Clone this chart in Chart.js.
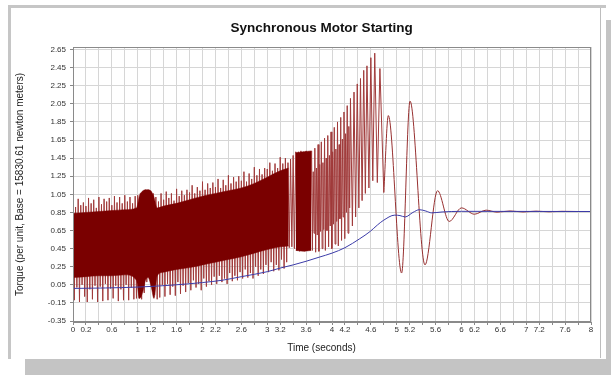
<!DOCTYPE html>
<html>
<head>
<meta charset="utf-8">
<title>Synchronous Motor Starting</title>
<script src="https://cdn.jsdelivr.net/npm/chart.js@4"></script>
<style>
  html, body { margin: 0; padding: 0; background: #fff; }
  #wrap { position: relative; width: 611px; height: 375px; overflow: hidden; }
  #shadow { position: absolute; left: 25px; top: 20px; width: 600px; height: 370px; background: #c4c4c4; }
  #panel { position: absolute; left: 8px; top: 5px; width: 598px; height: 354px; box-sizing: border-box;
           background: #fff; border-top: 3px solid #c6c6c6; border-left: 3px solid #c6c6c6; }
  #edge { position: absolute; left: 600px; top: 8px; width: 1px; height: 350px; background: #bdbdbd; }
  canvas { position: absolute; left: 0; top: 0; }
</style>
</head>
<body>
<div id="wrap">
  <div id="shadow"></div>
  <div id="panel"></div>
  <div id="edge"></div>
  <canvas id="motorChart" width="611" height="375"></canvas>
</div>
<script>
// axis ticks
const xTickLabels = ['0', '0.2', '0.6', '1', '1.2', '1.6', '2', '2.2', '2.6', '3', '3.2', '3.6',
                     '4', '4.2', '4.6', '5', '5.2', '5.6', '6', '6.2', '6.6', '7', '7.2', '7.6', '8'];
const xGridStep = 0.2;
const yTickValues = [-0.35, -0.15, 0.05, 0.25, 0.45, 0.65, 0.85, 1.05, 1.25, 1.45, 1.65, 1.85, 2.05, 2.25, 2.45, 2.65];

// torque, 0 .. 3.66 s, one sample every 0.02 s (peak / trough alternating)
const denseStep = 0.02;
const torqueDense = [
  0.98,-0.12, 0.91,0.02, 1.00,-0.14, 0.93,0.05, 0.96,-0.08,
  0.92,-0.14, 1.01,0.00, 0.95,-0.11, 0.99,0.04, 0.90,-0.14,
  1.02,0.03, 0.94,-0.13, 1.00,0.06, 0.97,-0.12, 1.01,0.01,
  0.93,-0.10, 1.03,0.04, 0.96,-0.13, 1.02,0.00, 0.95,-0.12,
  1.04,0.05, 0.97,-0.12, 1.02,0.02, 0.95,-0.11, 1.03,-0.10,
  1.04,-0.10, 1.06,-0.11, 1.08,-0.04, 1.10,0.08, 1.10,0.13,
  1.09,0.10, 1.06,-0.06, 1.02,-0.11, 0.97,-0.09, 1.06,0.05,
  0.99,-0.08, 1.08,0.06, 1.01,-0.06, 1.06,0.03, 0.98,-0.07,
  1.11,0.08, 1.03,-0.05, 1.09,0.04, 1.04,-0.03, 1.10,0.07,
  1.07,-0.01, 1.15,0.10, 1.06,0.02, 1.13,0.06, 1.09,-0.01,
  1.19,0.12, 1.10,0.03, 1.17,0.09, 1.12,0.05, 1.18,0.14,
  1.13,0.06, 1.22,0.15, 1.12,0.08, 1.21,0.12, 1.15,0.06,
  1.26,0.18, 1.17,0.09, 1.24,0.15, 1.19,0.10, 1.25,0.19,
  1.20,0.12, 1.30,0.22, 1.19,0.13, 1.28,0.18, 1.22,0.12,
  1.35,0.25, 1.26,0.15, 1.33,0.22, 1.27,0.17, 1.34,0.27,
  1.33,0.19, 1.40,0.30, 1.31,0.20, 1.39,0.27, 1.34,0.21,
  1.46,0.33, 1.39,0.23, 1.45,0.30, 1.40,0.46, 1.44,0.47,
  1.48,0.45, 1.52,0.43, 1.52,0.42, 1.53,0.43, 1.52,0.42,
  1.53,0.43, 1.52,0.44
];

// solid inner band of the fast oscillation (upper / lower edge)
const coreTime = [0, 0.2, 0.4, 0.6, 0.8, 0.98, 1.03, 1.08, 1.12, 1.16, 1.21, 1.25, 1.30, 1.4, 1.6, 1.8,
                  2.0, 2.2, 2.4, 2.6, 2.8, 3.0, 3.2, 3.33];
const coreUpper = [0.84, 0.85, 0.86, 0.87, 0.88, 0.90, 1.04, 1.09, 1.10, 1.10, 1.08, 1.02, 0.90, 0.92, 0.95, 0.99,
                   1.03, 1.06, 1.09, 1.12, 1.17, 1.24, 1.31, 1.34];
const coreLower = [0.13, 0.14, 0.15, 0.15, 0.16, 0.10, -0.10, -0.02, 0.10, 0.13, 0.02, -0.10, 0.15, 0.19, 0.22, 0.24,
                   0.27, 0.30, 0.33, 0.36, 0.40, 0.44, 0.47, 0.48];
const blockTime = [3.44, 3.56, 3.68];
const blockUpper = [1.51, 1.52, 1.53];
const blockLower = [0.43, 0.42, 0.43];

// torque, growing swings before pull-in
const swingTime = [
  3.685, 3.6975, 3.71, 3.7225, 3.735, 3.7475, 3.76, 3.7725, 3.785, 3.7975, 3.81, 3.8225,
  3.835, 3.8475, 3.86, 3.8725, 3.885, 3.8975, 3.91, 3.9225, 3.935, 3.9475, 3.96, 3.9725,
  3.985, 3.9975, 4.01, 4.0225, 4.035, 4.0475, 4.06, 4.0725, 4.085, 4.0975, 4.11, 4.1225,
  4.135, 4.1475, 4.16, 4.1725, 4.185, 4.1975, 4.21, 4.2225, 4.235, 4.2475, 4.26, 4.2725,
  4.285, 4.315, 4.34, 4.365, 4.39, 4.415, 4.44, 4.465, 4.49, 4.515, 4.54, 4.57, 4.60, 4.63,
  4.66, 4.70, 4.74, 4.80
];
const swingTorque = [
  1.53, 0.43, 1.30, 0.62, 1.56, 0.41, 1.34, 0.60, 1.60, 0.42, 1.38, 0.64,
  1.63, 0.45, 1.40, 0.66, 1.67, 0.43, 1.45, 0.65, 1.70, 0.47, 1.48, 0.70,
  1.74, 0.45, 1.52, 0.72, 1.79, 0.50, 1.55, 0.75, 1.85, 0.48, 1.60, 0.78,
  1.90, 0.54, 1.66, 0.80, 1.96, 0.56, 1.72, 0.85, 2.03, 0.62, 1.80, 0.90,
  2.11, 0.70, 2.18, 0.80, 2.27, 0.90, 2.33, 0.98, 2.42, 1.06, 2.47, 1.12, 2.56, 1.20,
  2.61, 1.18, 2.44, 1.07
];

// torque, damped oscillation after pull-in
const settleTime = [4.80, 4.87, 5.075, 5.205, 5.436, 5.63, 5.81, 6.0, 6.2, 6.38, 6.55, 6.75, 6.95, 7.15, 7.35, 7.55, 7.8, 8.0];
const settleTorque = [1.07, 1.92, 0.18, 2.08, 0.27, 1.09, 0.75, 0.90, 0.83, 0.875, 0.853, 0.866, 0.855, 0.864, 0.857, 0.862, 0.86, 0.86];

// blue trace
const speedTime = [0, 0.5, 1.0, 1.5, 2.0, 2.3, 2.6, 3.0, 3.2, 3.4, 3.6, 3.8, 4.0, 4.2, 4.43, 4.59, 4.7, 4.79,
                   4.97, 5.05, 5.13, 5.25, 5.35, 5.45, 5.54, 5.7, 6.0, 8.0];
const speedValue = [0.01, 0.015, 0.025, 0.045, 0.075, 0.10, 0.14, 0.195, 0.235, 0.27, 0.31, 0.355, 0.40, 0.46, 0.56, 0.64, 0.71, 0.76,
                    0.82, 0.815, 0.80, 0.85, 0.88, 0.865, 0.845, 0.855, 0.862, 0.86];

const toPoints = (xs, ys) => ys.map((y, i) => ({ x: xs[i], y: y }));
const densePoints = torqueDense.map((y, i) => ({ x: i * denseStep, y: y }));

const frame = {
  id: 'frame',
  afterDraw(chart) {
    const a = chart.chartArea;
    const ctx = chart.ctx;
    ctx.save();
    ctx.strokeStyle = '#8a8a8a';
    ctx.lineWidth = 1;
    ctx.strokeRect(a.left + 0.5, a.top + 0.5, a.right - a.left - 1, a.bottom - a.top - 1);
    ctx.restore();
  }
};

const font = 'Liberation Sans, Arial, sans-serif';
const maroon = '#7a0000';

new Chart(document.getElementById('motorChart'), {
  type: 'line',
  data: {
    datasets: [
      {
        data: toPoints(speedTime, speedValue),
        borderColor: '#3b3ba8', borderWidth: 1, pointRadius: 0,
        cubicInterpolationMode: 'monotone', order: 0
      },
      {
        data: densePoints.concat(toPoints(swingTime, swingTorque)),
        borderColor: '#a03a3a', borderWidth: 1, pointRadius: 0, tension: 0, order: 2
      },
      {
        data: toPoints(settleTime, settleTorque),
        borderColor: '#973030', borderWidth: 1, pointRadius: 0,
        cubicInterpolationMode: 'monotone', order: 2
      },
      {
        data: toPoints(coreTime, coreUpper),
        borderColor: maroon, borderWidth: 0.5, pointRadius: 0,
        cubicInterpolationMode: 'monotone', order: 1
      },
      {
        data: toPoints(coreTime, coreLower),
        borderColor: maroon, borderWidth: 0.5, pointRadius: 0, backgroundColor: maroon, fill: 3,
        cubicInterpolationMode: 'monotone', order: 1
      },
      {
        data: toPoints(blockTime, blockUpper),
        borderColor: maroon, borderWidth: 0.5, pointRadius: 0, order: 1
      },
      {
        data: toPoints(blockTime, blockLower),
        borderColor: maroon, borderWidth: 0.5, pointRadius: 0, backgroundColor: maroon, fill: 5, order: 1
      }
    ]
  },
  options: {
    responsive: false,
    animation: false,
    layout: { padding: { left: 32, right: 0, top: 0, bottom: 0 } },
    plugins: {
      legend: { display: false },
      tooltip: { enabled: false },
      title: {
        display: true,
        text: 'Synchronous Motor Starting',
        color: '#111',
        font: { family: font, size: 13.5, weight: 'bold' },
        padding: { top: 19.9, bottom: 10.9 }
      },
      subtitle: {
        display: true,
        position: 'bottom',
        text: 'Time (seconds)',
        color: '#222',
        font: { family: font, size: 10 },
        padding: { top: 0, bottom: 21 }
      }
    },
    scales: {
      x: {
        type: 'linear',
        min: 0, max: 8,
        afterBuildTicks: scale => {
          const ticks = [];
          for (let k = 0; k <= 40; k++) ticks.push({ value: Math.round(k * xGridStep * 10) / 10 });
          scale.ticks = ticks;
        },
        afterFit: scale => { scale.height = 375 - 21 - 12 - 322; },
        ticks: {
          autoSkip: false, maxRotation: 0, padding: 0,
          color: '#333', font: { family: font, size: 8 },
          callback: v => xTickLabels.includes(String(v)) ? String(v) : ''
        },
        grid: { color: '#d6d6d6', tickColor: '#888', tickLength: 3 },
        border: { color: '#8a8a8a' }
      },
      y: {
        min: -0.361, max: 2.678,
        afterBuildTicks: scale => { scale.ticks = yTickValues.map(v => ({ value: v })); },
        afterFit: scale => { scale.width = 41; },
        ticks: {
          padding: 4, color: '#333', font: { family: font, size: 8 },
          callback: v => v.toFixed(2)
        },
        grid: { color: '#d6d6d6', tickColor: '#888', tickLength: 3 },
        border: { color: '#8a8a8a' },
        title: {
          display: true, text: 'Torque (per unit, Base = 15830.61 newton meters)', color: '#222',
          font: { family: font, size: 10 }, padding: { top: -18, bottom: 0 }
        }
      },
      // empty right-hand margin
      yRight: {
        type: 'linear', position: 'right',
        ticks: { display: false }, grid: { display: false }, border: { display: false },
        afterFit: scale => { scale.width = 20; }
      }
    }
  },
  plugins: [frame]
});
</script>
</body>
</html>
